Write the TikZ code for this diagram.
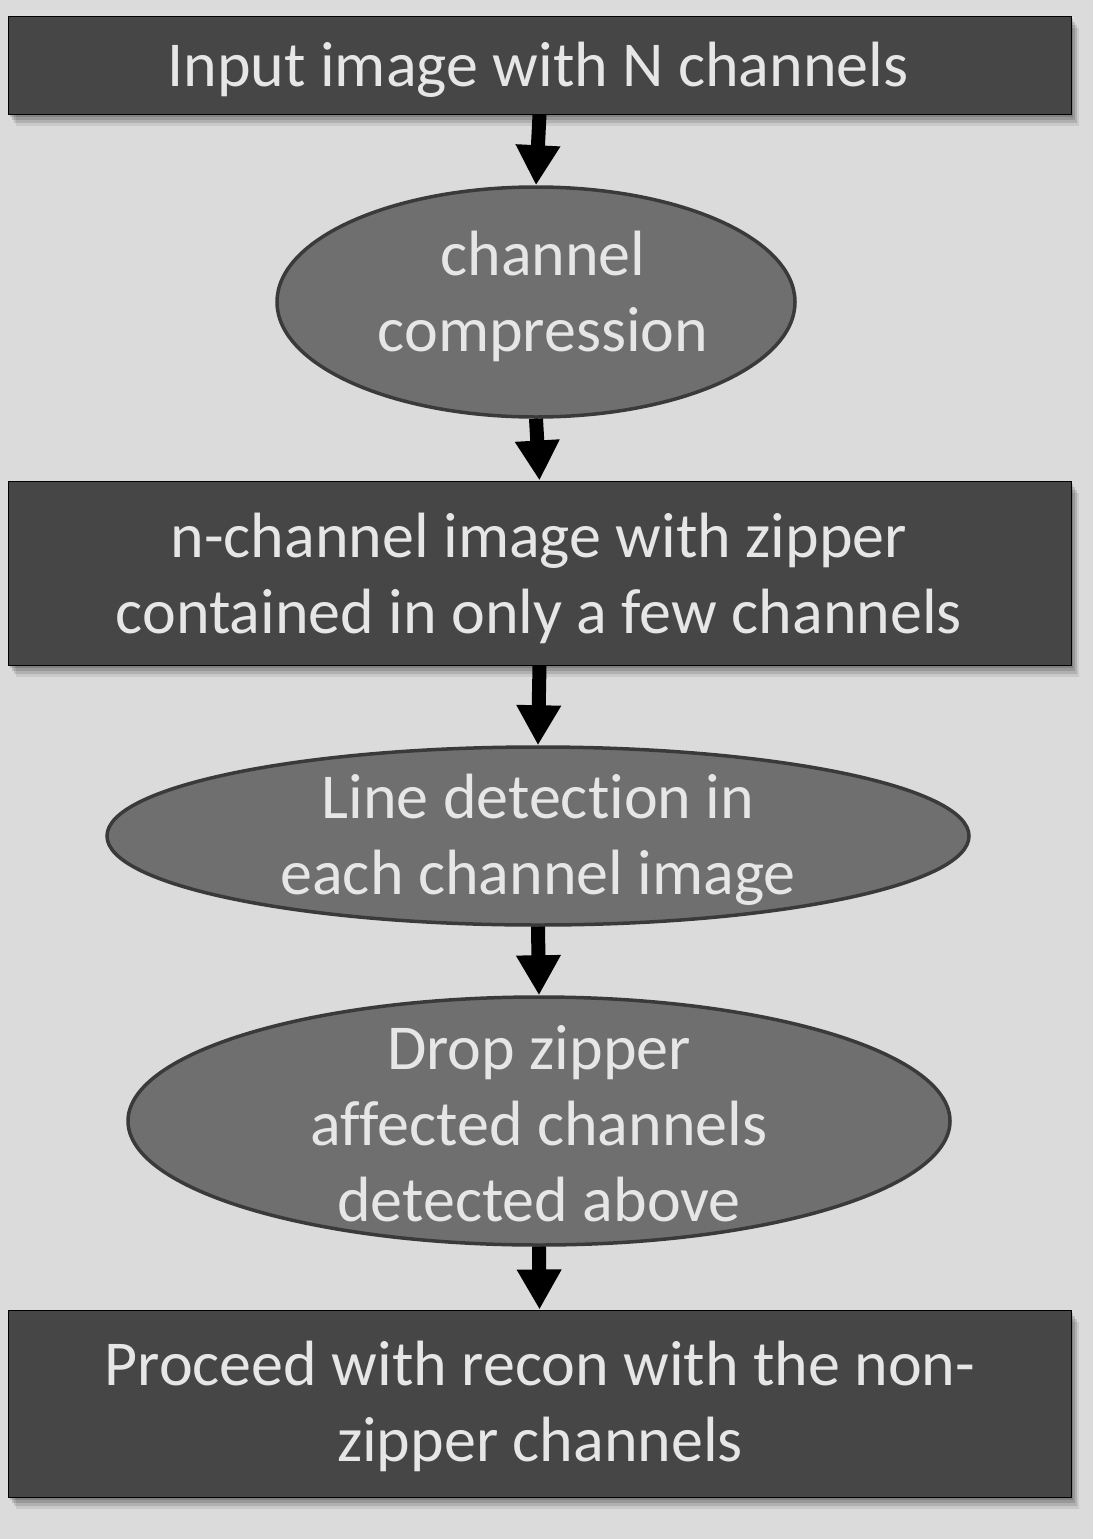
\documentclass[tikz,border=0pt]{standalone}
\usepackage{fontspec}
\setmainfont[Ligatures={NoCommon,NoDiscretionary}]{Carlito}
\usetikzlibrary{shapes.geometric,arrows.meta,shadows}
\definecolor{bgc}{HTML}{DBDBDB}
\definecolor{boxc}{HTML}{464646}
\definecolor{ellc}{HTML}{6F6F6F}
\definecolor{ellb}{HTML}{3A3A3A}
\definecolor{txtc}{HTML}{E6E6E6}
\tikzset{
  softshadow/.style={
    general shadow={shadow xshift=2pt, shadow yshift=-3pt, fill=black, opacity=0.14},
    general shadow={shadow xshift=4pt, shadow yshift=-6pt, fill=black, opacity=0.14},
    general shadow={shadow xshift=6pt, shadow yshift=-9pt, fill=black, opacity=0.12},
    general shadow={shadow xshift=8pt, shadow yshift=-12pt, fill=black, opacity=0.08}},
  boxnode/.style={rectangle, draw=black, line width=1pt, fill=boxc,
    minimum width=1063pt, inner sep=0pt, softshadow},
  ellnode/.style={ellipse, draw=ellb, line width=3.5pt, fill=ellc, inner sep=0pt},
  label/.style={text=txtc, align=center, inner sep=0pt,
    font=\fontsize{64}{76}\selectfont},
  flowarrow/.style={draw=black, line width=14pt, -{Triangle[width=42pt,length=40pt]}}
}
\begin{document}
\begin{tikzpicture}[x=1pt,y=-1pt]
\fill[bgc] (0,0) rectangle (1093,1539);
\useasboundingbox (0,0) rectangle (1093,1539);
\node[boxnode, minimum height=98pt] (b1) at (539.5,65) {};
\node[label] (b1t) at (538,70) {Input image with N channels};
\node[ellnode, minimum width=518pt, minimum height=230pt] (e1) at (536,302) {};
\node[label] (e1t) at (543,296) {channel\\compression};
\node[boxnode, minimum height=184pt] (b2) at (539.5,573) {};
\node[label] (b2t) at (539,578) {n-channel image with zipper\\contained in only a few channels};
\node[ellnode, minimum width=862pt, minimum height=178pt] (e2) at (538,836) {};
\node[label] (e2t) at (538,840) {Line detection in\\each channel image};
\node[ellnode, minimum width=822pt, minimum height=248pt] (e3) at (539,1121) {};
\node[label] (e3t) at (539,1124) {Drop zipper\\affected channels\\detected above};
\node[boxnode, minimum height=187pt] (b3) at (539.5,1403.5) {};
\node[label] (b3t) at (540,1406) {Proceed with recon with the non-\\zipper channels};
\draw[flowarrow] (b1.south) -- (e1.north);
\draw[flowarrow] (e1.south) -- (b2.north);
\draw[flowarrow] (b2.south) -- (e2.north);
\draw[flowarrow] (e2.south) -- (e3.north);
\draw[flowarrow] (e3.south) -- (b3.north);
\end{tikzpicture}
\end{document}
